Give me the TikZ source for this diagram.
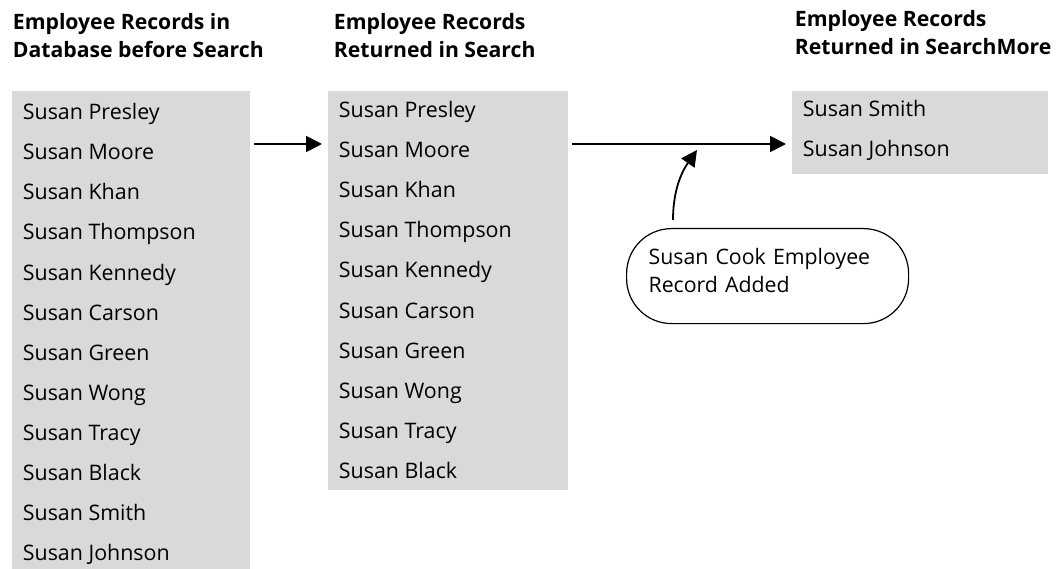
\documentclass[tikz,border=0pt]{standalone}
\usepackage{fontspec}
\setmainfont{Open Sans}
\usetikzlibrary{arrows.meta}
\definecolor{listgray}{RGB}{217,217,217}

\begin{document}
\begin{tikzpicture}[x=1pt,y=-1pt,line width=1.8pt,
	>={Triangle[length=16pt,width=16pt]},
	listbox/.style={fill=listgray,draw=none,inner sep=0pt,anchor=north west},
	entry/.style={anchor=base west,inner sep=0pt,font=\fontsize{21.4}{24}\selectfont},
	heading/.style={anchor=north west,inner sep=0pt,align=left,font=\fontsize{21.2}{28}\selectfont\bfseries},
	note/.style={draw,line width=1.2pt,rounded corners=45pt,anchor=north west,inner ysep=0pt,inner xsep=22pt,
		text width=238pt,minimum height=95pt,text depth=40pt,align=left,font=\fontsize{21.3}{28}\selectfont}]
	\useasboundingbox (0,0) rectangle (1057,569);

	%headings
	\node[heading] (hdb) at (12,12) {Employee Records in\\Database before Search};
	\node[heading] (hsearch) at (333,12) {Employee Records\\Returned in Search};
	\node[heading] (hmore) at (794,9) {Employee Records\\Returned in SearchMore};

	%grey lists
	\node[listbox,minimum width=238pt,minimum height=479pt] (db) at (11,90) {};
	\node[listbox,minimum width=240pt,minimum height=399pt] (search) at (327,90) {};
	\node[listbox,minimum width=256pt,minimum height=83pt] (more) at (791,90) {};

	%names
	\foreach \name [count=\i] in {Presley,Moore,Khan,Thompson,Kennedy,Carson,Green,Wong,Tracy,Black,Smith,Johnson}
		\node[entry] (db\i) at (22,120+40*\i-40) {Susan \name};
	\foreach \name [count=\i] in {Presley,Moore,Khan,Thompson,Kennedy,Carson,Green,Wong,Tracy,Black}
		\node[entry] (search\i) at (338,118+40*\i-40) {Susan \name};
	\foreach \name [count=\i] in {Smith,Johnson}
		\node[entry] (more\i) at (802,117+40*\i-40) {Susan \name};

	%added record
	\node[note] (cook) at (626,228) {Susan Cook Employee\\Record Added};
	\coordinate (join) at (697,150);

	%arrows
	\draw[->,shorten <=3pt,shorten >=5pt] (db.east |- 0,144) -- (search.west |- 0,144);
	\draw[->,shorten <=3pt,shorten >=5pt] (search.east |- 0,144) -- (more.west |- 0,144);
	\draw[->,shorten <=8pt] (cook.north -| 673,0) to[out=90,in=235] (join);

\end{tikzpicture}
\end{document}
